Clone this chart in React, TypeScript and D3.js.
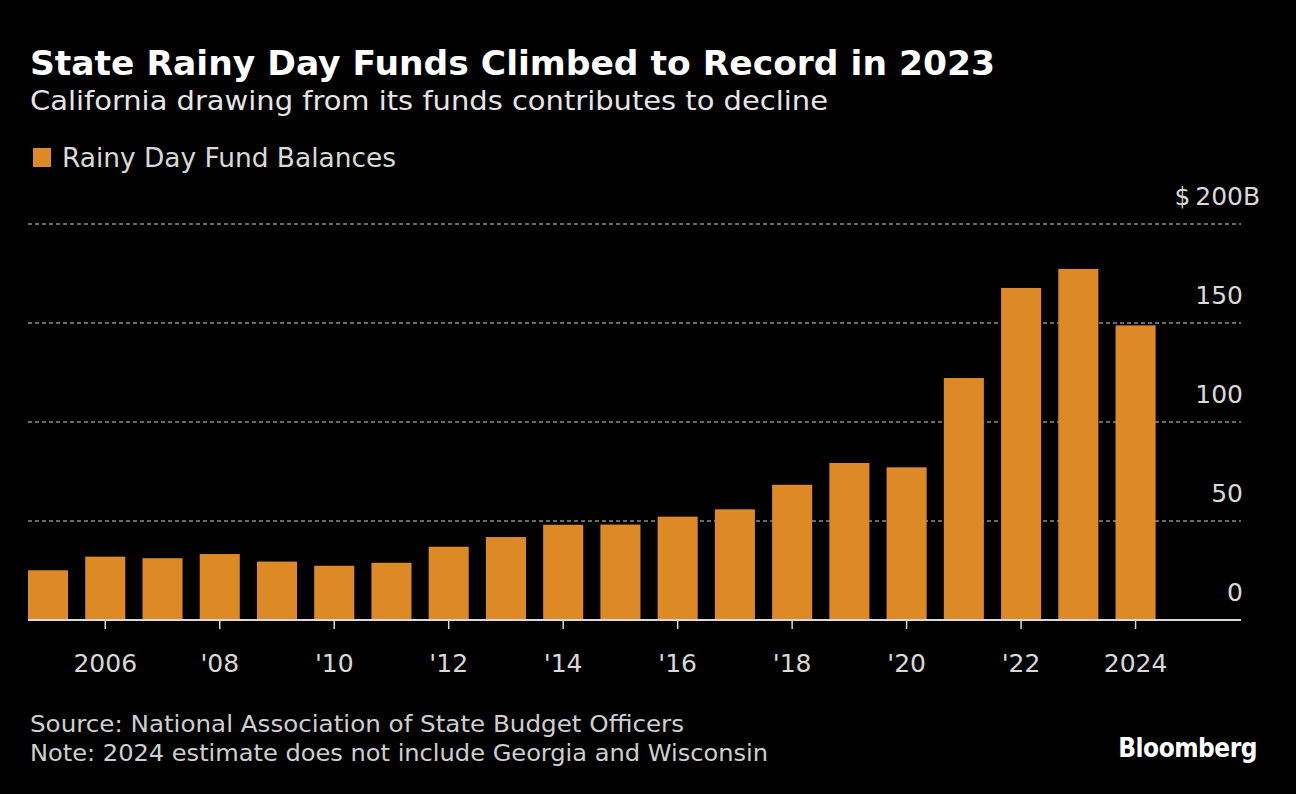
import React from "react";
import * as d3 from "d3";

const years: number[] = [2005, 2006, 2007, 2008, 2009, 2010, 2011, 2012, 2013, 2014, 2015, 2016, 2017, 2018, 2019, 2020, 2021, 2022, 2023, 2024];
const balances: number[] = [25.1, 32.0, 31.2, 33.3, 29.5, 27.4, 28.9, 37.0, 41.9, 48.1, 48.2, 52.2, 55.9, 68.3, 79.3, 77.1, 122.2, 167.7, 177.3, 148.8];
const yTicks: number[] = [0, 50, 100, 150, 200];
const xTickYears: number[] = [2006, 2008, 2010, 2012, 2014, 2016, 2018, 2020, 2022, 2024];
const xTickLabel = (y: number) => (y === 2006 || y === 2024 ? String(y) : "'" + String(y).slice(2));

const W = 1296;
const H = 794;
const FONT = "'DejaVu Sans', sans-serif";
const FONT_C = "'DejaVu Sans Condensed', 'DejaVu Sans', sans-serif";
const BAR = "#dd8a26";

export default function App() {
  const x = d3.scaleBand<number>().domain(years).range([28, 1155.6]).paddingInner(0.3).paddingOuter(0);
  const y = d3.scaleLinear().domain([0, 200]).range([620, 224]);
  const gridRight = 1241;
  const labelX = 1243;

  return (
    <svg width={W} height={H} style={{ position: "absolute", left: 0, top: 0, background: "#000" }}>
      <rect x={0} y={0} width={W} height={H} fill="#000" />
      <text x={30} y={75} fill="#fff" fontFamily={FONT} fontWeight="bold" fontSize={33} textLength={965} lengthAdjust="spacingAndGlyphs">
        State Rainy Day Funds Climbed to Record in 2023
      </text>
      <text x={30} y={110} fill="#e6e6e6" fontFamily={FONT_C} fontSize={27} textLength={798} lengthAdjust="spacingAndGlyphs">
        California drawing from its funds contributes to decline
      </text>
      <rect x={33} y={148} width={18} height={19} fill={BAR} />
      <text x={62} y={167} fill="#d9d9d9" fontFamily={FONT_C} fontSize={26} textLength={334} lengthAdjust="spacingAndGlyphs">
        Rainy Day Fund Balances
      </text>

      {yTicks.filter((t) => t > 0).map((t) => (
        <line key={"g" + t} x1={28} x2={gridRight} y1={y(t)} y2={y(t)} stroke="#8c8c8c" strokeWidth={1.5} strokeDasharray="4,3" />
      ))}

      {years.map((yr, i) => (
        <rect key={yr} x={x(yr)} y={y(balances[i])} width={x.bandwidth()} height={y(0) - y(balances[i])} fill={BAR} />
      ))}

      <line x1={28} x2={gridRight} y1={y(0)} y2={y(0)} stroke="#d9d9d9" strokeWidth={2} />

      {xTickYears.map((yr) => {
        const cx = (x(yr) as number) + x.bandwidth() / 2;
        return (
          <g key={"t" + yr}>
            <line x1={cx} x2={cx} y1={y(0)} y2={y(0) + 9} stroke="#d9d9d9" strokeWidth={1.5} />
            <text x={cx} y={672} textAnchor="middle" fill="#d9d9d9" fontFamily={FONT} fontSize={25}>
              {xTickLabel(yr)}
            </text>
          </g>
        );
      })}

      {yTicks.map((t) => (
        <g key={"yl" + t}>
          <text x={labelX} y={y(t) - 19} textAnchor="end" fill="#d9d9d9" fontFamily={FONT} fontSize={25}>
            {t === 200 ? "$\u2009" + t : String(t)}
          </text>
          {t === 200 && (
            <text x={labelX} y={y(t) - 19} textAnchor="start" fill="#d9d9d9" fontFamily={FONT} fontSize={25}>
              B
            </text>
          )}
        </g>
      ))}

      <text x={30} y={732} fill="#cfcfcf" fontFamily={FONT_C} fontSize={23} textLength={654} lengthAdjust="spacingAndGlyphs">
        Source: National Association of State Budget Officers
      </text>
      <text x={30} y={761} fill="#cfcfcf" fontFamily={FONT_C} fontSize={23} textLength={738} lengthAdjust="spacingAndGlyphs">
        Note: 2024 estimate does not include Georgia and Wisconsin
      </text>
      <text x={1257} y={757} textAnchor="end" fill="#fff" fontFamily={FONT_C} fontWeight="bold" fontSize={26} letterSpacing={-0.5}>
        Bloomberg
      </text>
    </svg>
  );
}
